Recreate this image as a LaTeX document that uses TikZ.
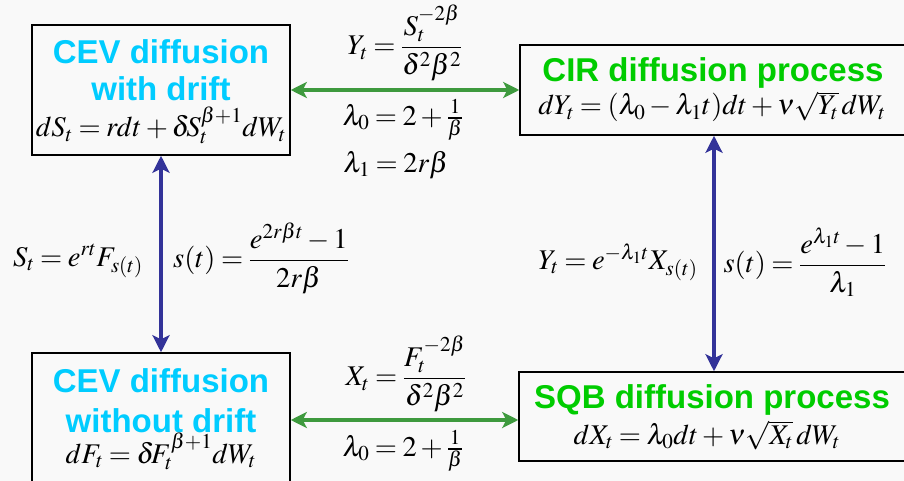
\documentclass[tikz,border=0pt]{standalone}
\usepackage{amsmath}
\usepackage{mathptmx}
\usepackage{fontspec}
\newfontfamily\arialb{Liberation Sans}[BoldFont={Liberation Sans Bold}]
\usetikzlibrary{arrows.meta}
\definecolor{bgc}{HTML}{F9F9F9}
\definecolor{cevc}{HTML}{00CCFF}
\definecolor{procg}{HTML}{00CC00}
\definecolor{arrg}{HTML}{3E9A3E}
\definecolor{arrb}{HTML}{333399}
\thickmuskip=3.5mu plus 2mu
\medmuskip=2.5mu plus 1mu
\tikzset{
  boxnode/.style={draw=black, line width=1.5pt, rectangle, inner sep=0pt, fill=bgc},
  titletxt/.style={font=\arialb\bfseries\fontsize{33}{36}\selectfont, inner sep=0pt, anchor=base},
  eqtxt/.style={font=\fontsize{28.5}{32}\selectfont, inner sep=0pt, anchor=base},
  mathlbl/.style={font=\fontsize{28.5}{32}\selectfont, inner sep=0pt},
  headtip/.style={Stealth[length=16pt,width=16pt,inset=4pt]},
  garrow/.style={draw=arrg, line width=4pt, {Stealth[length=16pt,width=16pt,inset=4pt]}-{Stealth[length=16pt,width=16pt,inset=4pt]}},
  barrow/.style={draw=arrb, line width=4pt, {Stealth[length=17pt,width=17pt,inset=4pt]}-{Stealth[length=17pt,width=17pt,inset=4pt]}},
}
\begin{document}
\begin{tikzpicture}[x=1pt,y=-1pt]
\fill[bgc] (0,0) rectangle (904,481);
\useasboundingbox (0,0) rectangle (904,481);
% boxes
\node[boxnode, minimum width=258pt, minimum height=130pt] (A) at (161,90) {};
\node[boxnode, minimum width=388pt, minimum height=90pt] (B) at (714,90) {};
\node[boxnode, minimum width=258pt, minimum height=134pt] (C) at (161,420) {};
\node[boxnode, minimum width=388pt, minimum height=89pt] (D) at (713,416.5) {};
% box texts
\node[titletxt, text=cevc] (A1) at (161,64) {CEV diffusion};
\node[titletxt, text=cevc] (A2) at (161,101) {with drift};
\node[eqtxt] (A3) at (161,137) {$dS_t=rdt+\delta\!S_t^{\beta+1}dW_t$};
\node[titletxt, text=procg] (B1) at (713,82) {CIR diffusion process};
\node[eqtxt] (B2) at (712,115) {$dY_t=(\lambda_0-\lambda_1 t)dt+\nu\sqrt{Y_t}\,dW_t$};
\node[titletxt, text=cevc] (C1) at (161,392) {CEV diffusion};
\node[titletxt, text=cevc] (C2) at (161,432) {without drift};
\node[eqtxt] (C3) at (161,463) {$dF_t=\delta\!F_t^{\beta+1}dW_t$};
\node[titletxt, text=procg] (D1) at (712,408) {SQB diffusion process};
\node[eqtxt] (D2) at (707,444) {$dX_t=\lambda_0dt+\nu\sqrt{X_t}\,dW_t$};
% connectors
\draw[garrow] (A) -- (B);
\draw[garrow] (C.east |- 0,420) coordinate (ce) -- (ce -| D.west);
\draw[barrow] (A) -- (C);
\draw[barrow] (B.south -| 714,0) coordinate (bs) -- (bs |- D.north);
% labels
\node[mathlbl] (L1) at (405,43) {$Y_t=\dfrac{S_t^{-2\beta}}{\delta^2\beta^2}$};
\node[mathlbl] (L2) at (403,120) {$\lambda_0=2+\tfrac{1}{\beta}$};
\node[mathlbl] (L3) at (396,165) {$\lambda_1=2r\beta$};
\node[mathlbl] (L4) at (78,261) {$S_t=e^{rt}F_{s(t)}$};
\node[mathlbl] (L5) at (261,258) {$s(t)=\dfrac{e^{2r\beta t}-1}{2r\beta}$};
\node[mathlbl] (L6) at (618,262) {$Y_t=e^{-\lambda_1 t}X_{s(t)}$};
\node[mathlbl] (L7) at (805,262) {$s(t)=\dfrac{e^{\lambda_1 t}-1}{\lambda_1}$};
\node[mathlbl] (L8) at (406,374) {$X_t=\dfrac{F_t^{-2\beta}}{\delta^2\beta^2}$};
\node[mathlbl] (L9) at (403,451) {$\lambda_0=2+\tfrac{1}{\beta}$};
\end{tikzpicture}
\end{document}
